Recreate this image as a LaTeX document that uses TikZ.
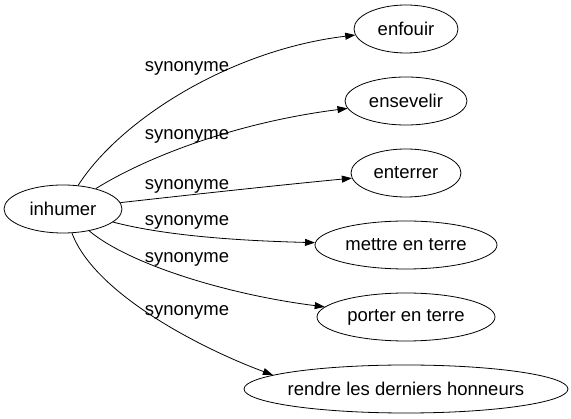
\documentclass[tikz,border=0pt]{standalone}
\usepackage{fontspec}
\setmainfont{Liberation Sans}
\usetikzlibrary{shapes.geometric, arrows.meta, positioning}

\begin{document}
\begin{tikzpicture}[
    x=1pt, y=-1pt,
    node distance=72pt,
    font=\fontsize{18.5}{22}\selectfont,
    word/.style={ellipse, draw, line width=0.8pt, inner sep=0pt, minimum height=48pt},
    rel/.style={inner sep=0pt},
    arrow/.style={->, >={Triangle[length=10pt, width=7pt]}, line width=0.8pt}
]
\useasboundingbox (0,0) rectangle (571,419);

% Source word
\node[word, minimum width=118pt] (inhumer) at (63,209) {inhumer};

% Synonyms
\node[word, minimum width=104pt] (enfouir) at (406,29) {enfouir};
\node[word, minimum width=122pt, below of=enfouir] (ensevelir) {ensevelir};
\node[word, minimum width=110pt, below of=ensevelir] (enterrer) {enterrer};
\node[word, minimum width=182pt, below of=enterrer] (mettre) {mettre en terre};
\node[word, minimum width=178pt, below of=mettre] (porter) {porter en terre};
\node[word, minimum width=324pt, inner xsep=-4pt, below of=porter] (rendre) {rendre les derniers honneurs};

% Arrows
\draw[arrow] (inhumer) .. controls (120,120) and (230,50) .. (enfouir);
\draw[arrow] (inhumer) .. controls (150,155) and (240,122) .. (ensevelir);
\draw[arrow] (inhumer) .. controls (180,196) and (270,186) .. (enterrer);
\draw[arrow] (inhumer) .. controls (170,237) and (250,241) .. (mettre);
\draw[arrow] (inhumer) .. controls (130,265) and (230,295) .. (porter);
\draw[arrow] (inhumer) .. controls (95,295) and (205,350) .. (rendre.174);

% Labels
\node[rel] (l1) at (187,68) {synonyme};
\node[rel] (l2) at (187,136) {synonyme};
\node[rel] (l3) at (187,186) {synonyme};
\node[rel] (l4) at (187,222) {synonyme};
\node[rel] (l5) at (187,259) {synonyme};
\node[rel] (l6) at (187,312) {synonyme};

\end{tikzpicture}
\end{document}
